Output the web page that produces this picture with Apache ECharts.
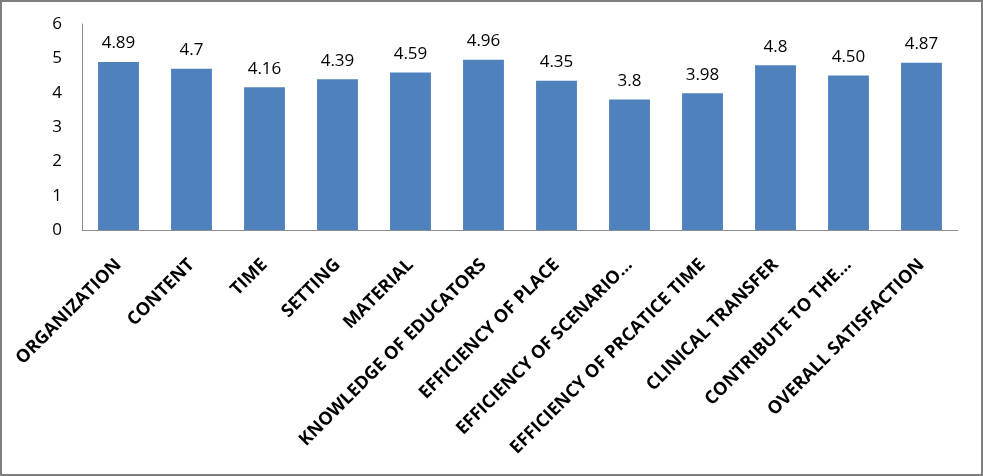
<!DOCTYPE html>
<html><head><meta charset="utf-8">
<script src="https://cdn.jsdelivr.net/npm/echarts@6/dist/echarts.min.js"></script>
<style>
html,body{margin:0;padding:0;background:#fff;}
#c{width:983px;height:476px;box-sizing:border-box;border:2px solid #7f7f7f;}
</style></head><body>
<div id="c"></div>
<script>
const categories = ["ORGANIZATION","CONTENT","TIME","SETTING","MATERIAL","KNOWLEDGE OF EDUCATORS","EFFICIENCY OF PLACE","EFFICIENCY OF SCENARIO…","EFFICIENCY OF PRCATICE TIME","CLINICAL TRANSFER","CONTRIBUTE TO THE…","OVERALL SATISFACTION"];
const values = [4.89,4.7,4.16,4.39,4.59,4.96,4.35,3.8,3.98,4.8,4.50,4.87];
const valueLabels = ["4.89","4.7","4.16","4.39","4.59","4.96","4.35","3.8","3.98","4.8","4.50","4.87"];
const yTicks = [0,1,2,3,4,5,6];

const chart = echarts.init(document.getElementById('c'), null, {renderer:'canvas'});
chart.setOption({
  animation:false,
  grid:{left:80,right:23,top:22,bottom:244,containLabel:false},
  xAxis:{type:'category',data:categories,
    axisLine:{lineStyle:{color:'#8c8c8c',width:1}},
    axisTick:{show:false},
    axisLabel:{rotate:45,interval:0,margin:32,color:'#000',fontFamily:'Open Sans',fontWeight:'bold',fontSize:18}},
  yAxis:{type:'value',min:0,max:6,interval:1,
    axisLine:{show:true,lineStyle:{color:'#8c8c8c',width:1}},
    axisTick:{show:false},
    splitLine:{show:false},
    axisLabel:{margin:20,color:'#000',fontFamily:'Open Sans',fontSize:17,
      formatter:v=>yTicks.includes(v)?String(v):''}},
  series:[{type:'bar',data:values,barWidth:'56%',
    itemStyle:{color:'#4f81bd'},
    label:{show:true,position:'top',distance:10,color:'#000',fontFamily:'Open Sans',fontSize:17,
      formatter:p=>valueLabels[p.dataIndex]}}]
});
</script></body></html>
